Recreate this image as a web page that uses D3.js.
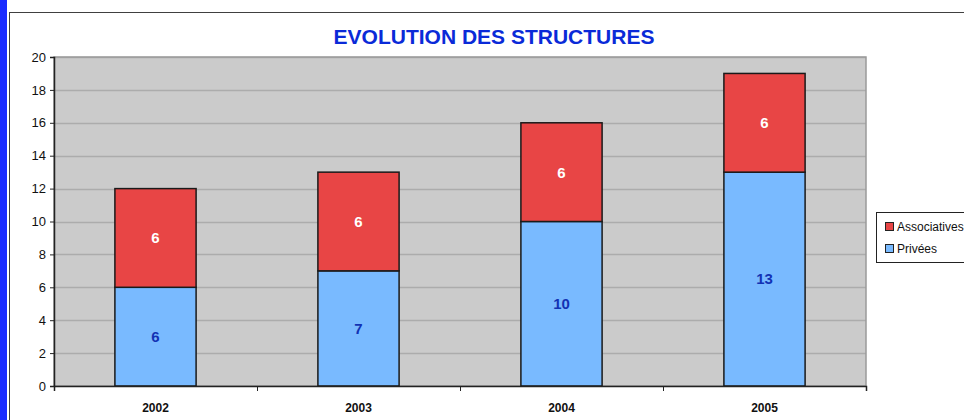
<!DOCTYPE html>
<html>
<head>
<meta charset="utf-8">
<script src="https://cdn.jsdelivr.net/npm/d3@7"></script>
<style>
  body { margin: 0; background: #fff; }
  svg { display: block; font-family: "Liberation Sans", Arial, sans-serif; }
</style>
</head>
<body>
<svg width="964" height="420"></svg>
<script>
// data
var years = ["2002", "2003", "2004", "2005"];
var privees = [6, 7, 10, 13];
var associatives = [6, 6, 6, 6];
var seriesNames = ["Associatives", "Privées"];
var yTicks = [0, 2, 4, 6, 8, 10, 12, 14, 16, 18, 20];

var svg = d3.select("svg");

// blue strip on the left + outer frame
svg.append("rect").attr("x", 0).attr("y", 0).attr("width", 7).attr("height", 420).attr("fill", "#1a2cff");
svg.append("rect").attr("x", 9.5).attr("y", 12.5).attr("width", 1000).attr("height", 500)
  .attr("fill", "#fff").attr("stroke", "#404040").attr("stroke-width", 1);

var margin = {top: 57, left: 54},
    width = 812, height = 329;

var g = svg.append("g").attr("transform", "translate(" + margin.left + "," + margin.top + ")");

var x = d3.scaleBand().domain(years).range([0, width]).paddingInner(0.6).paddingOuter(0.3);
var y = d3.scaleLinear().domain([0, 20]).range([height, 0]);

// plot background
g.append("rect").attr("width", width).attr("height", height).attr("fill", "#cbcbcb");

// gridlines
g.selectAll(".grid").data(yTicks.slice(1)).enter().append("line")
  .attr("x1", 0).attr("x2", width)
  .attr("y1", function(d) { return Math.round(y(d)) + 0.5; })
  .attr("y2", function(d) { return Math.round(y(d)) + 0.5; })
  .attr("stroke", "#acacac").attr("stroke-width", 1.5);

// plot border (right/top)
g.append("rect").attr("x", 0).attr("y", 0).attr("width", width).attr("height", height)
  .attr("fill", "none").attr("stroke", "#9a9a9a").attr("stroke-width", 1.5);

var stack = d3.stack().keys(["privees", "associatives"]);
var table = years.map(function(yr, i) { return {year: yr, privees: privees[i], associatives: associatives[i]}; });
var layers = stack(table);
var fills = {privees: "#79baff", associatives: "#e84545"};
var labelColors = {privees: "#1232b4", associatives: "#ffffff"};

layers.forEach(function(layer) {
  var k = layer.key;
  var sel = g.selectAll(".bar-" + k).data(layer).enter();
  sel.append("rect")
    .attr("x", function(d) { return x(d.data.year); })
    .attr("y", function(d) { return y(d[1]); })
    .attr("width", x.bandwidth())
    .attr("height", function(d) { return y(d[0]) - y(d[1]); })
    .attr("fill", fills[k]).attr("stroke", "#1a1a1a").attr("stroke-width", 1.5);
  sel.append("text")
    .attr("x", function(d) { return x(d.data.year) + x.bandwidth() / 2; })
    .attr("y", function(d) { return (y(d[0]) + y(d[1])) / 2; })
    .attr("dy", "0.36em")
    .attr("text-anchor", "middle")
    .attr("font-size", 15).attr("font-weight", "bold")
    .attr("fill", labelColors[k])
    .text(function(d) { return d[1] - d[0]; });
});

// y axis
var yAxis = g.append("g").call(d3.axisLeft(y).tickValues(yTicks).tickSize(4).tickPadding(4));
yAxis.select(".domain").attr("stroke", "#222").attr("stroke-width", 1.5);
yAxis.selectAll("line").attr("stroke", "#222");
yAxis.selectAll("text").attr("font-size", 13).attr("fill", "#111").attr("font-family", "Liberation Sans, Arial, sans-serif");

// x axis: ticks at category boundaries
var xl = d3.scaleLinear().domain([0, 4]).range([0, width]);
var xAxis = g.append("g").attr("transform", "translate(0," + height + ")")
  .call(d3.axisBottom(xl).ticks(4).tickSize(5).tickFormat(""));
xAxis.select(".domain").attr("stroke", "#222").attr("stroke-width", 1.5);
xAxis.selectAll("line").attr("stroke", "#222");
g.selectAll(".xlab").data(years).enter().append("text")
  .attr("x", function(d) { return x(d) + x.bandwidth() / 2; })
  .attr("y", height + 26)
  .attr("text-anchor", "middle")
  .attr("font-size", 12).attr("font-weight", "bold").attr("fill", "#111")
  .text(function(d) { return d; });

// title
svg.append("text")
  .attr("x", 494).attr("y", 44)
  .attr("text-anchor", "middle")
  .attr("font-size", 21).attr("font-weight", "bold").attr("fill", "#0a2ad8")
  .text("EVOLUTION DES STRUCTURES");

// legend
var leg = svg.append("g").attr("transform", "translate(876,212)");
leg.append("rect").attr("x", 0.5).attr("y", 0.5).attr("width", 120).attr("height", 50)
  .attr("fill", "#fff").attr("stroke", "#222");
var legColors = [fills.associatives, fills.privees];
seriesNames.forEach(function(name, i) {
  leg.append("rect").attr("x", 9.5).attr("y", 10.5 + i * 22).attr("width", 8).attr("height", 8)
    .attr("fill", legColors[i]).attr("stroke", "#222");
  leg.append("text").attr("x", 21).attr("y", 19 + i * 22)
    .attr("font-size", 12).attr("fill", "#111").text(name);
});
</script>
</body>
</html>
